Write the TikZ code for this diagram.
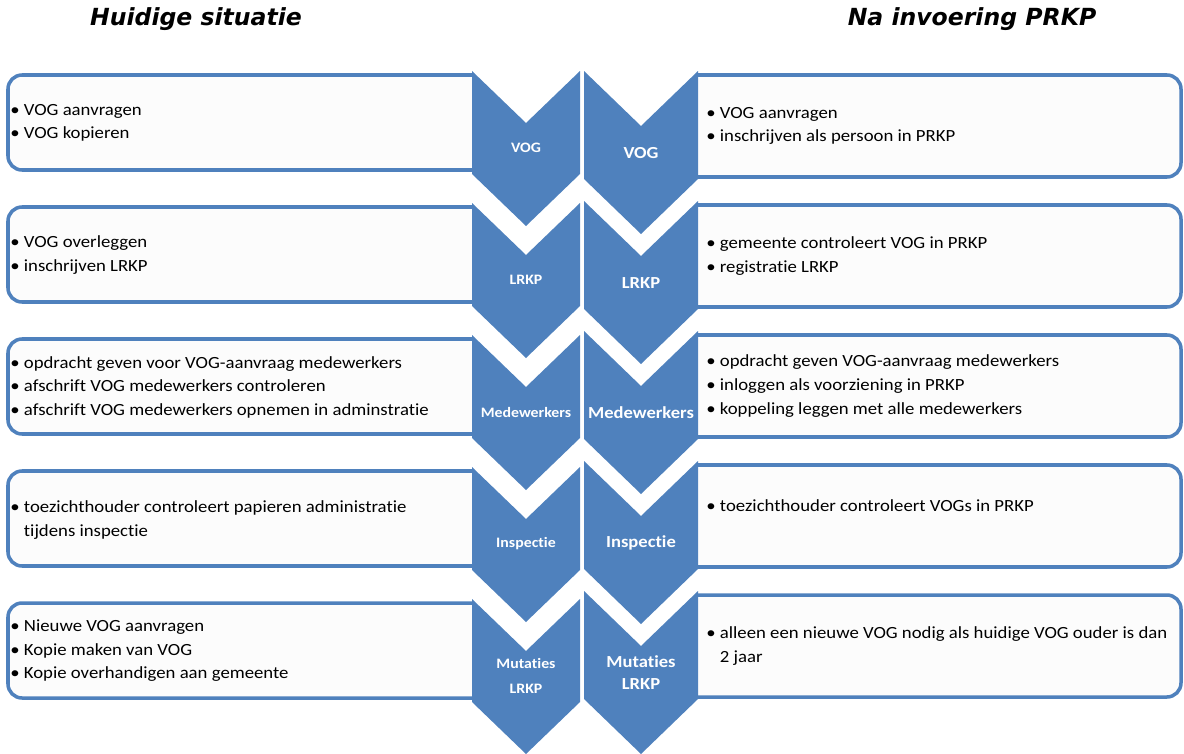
\documentclass[tikz,border=0pt]{standalone}
\usepackage{fontspec}
\setmainfont{Carlito}[FakeStretch=1.1, Ligatures=NoCommon]
\newfontfamily\headfont{DejaVu Sans}
\usepackage{tikz}
\definecolor{officeblue}{HTML}{4F81BD}
\definecolor{boxfill}{HTML}{FCFCFC}
\tikzset{
  stepbox/.style={draw=officeblue, line width=2pt, fill=boxfill, rounded corners=8pt},
  arrowblock/.style={fill=officeblue},
  itemtext/.style={anchor=west, align=left, inner sep=0pt, font=\fontsize{9.7}{13.4}\selectfont},
  lefttag/.style={text=white, align=center, inner sep=0pt, font=\bfseries\fontsize{8.2}{14.2}\selectfont},
  righttag/.style={text=white, align=center, inner sep=0pt, font=\bfseries\fontsize{9.6}{12.5}\selectfont},
  header/.style={inner sep=0pt, font=\headfont\bfseries\itshape\fontsize{13.4}{16}\selectfont}
}

\begin{document}
\begin{tikzpicture}[x=0.02cm,y=-0.02cm]
    \useasboundingbox (0,0) rectangle (1184,754);
    % headers
    \node[header] (hl) at (196,19) {Huidige situatie};
    \node[header] (hr) at (972,19) {Na invoering PRKP};
    % boxes left
    \begin{scope}
      \clip (0,0) rectangle (474,754);
      \foreach \i in {0,...,4}
        \draw[stepbox] (8,{75+132*\i}) rectangle (520,{170+132*\i});
    \end{scope}
    % boxes right
    \begin{scope}
      \clip (696,0) rectangle (1184,754);
      \foreach \i in {0,...,4}
        \draw[stepbox] (650,{75+130*\i}) rectangle (1181,{177+130*\i});
    \end{scope}
    % texts left
    \node[itemtext] (l1) at (10,123) {\textbullet~VOG aanvragen\\\textbullet~VOG kopieren};
    \node[itemtext] (l2) at (10,255) {\textbullet~VOG overleggen\\\textbullet~inschrijven LRKP};
    \node[itemtext] (l3) at (10,387) {\textbullet~opdracht geven voor VOG-aanvraag medewerkers\\\textbullet~afschrift VOG medewerkers controleren\\\textbullet~afschrift VOG medewerkers opnemen in adminstratie};
    \node[itemtext] (l4) at (10,520) {\textbullet~toezichthouder controleert papieren administratie\\\phantom{\textbullet~}tijdens inspectie};
    \node[itemtext] (l5) at (10,651) {\textbullet~Nieuwe VOG aanvragen\\\textbullet~Kopie maken van VOG\\\textbullet~Kopie overhandigen aan gemeente};
    % texts right
    \node[itemtext] (r1) at (706,126) {\textbullet~VOG aanvragen\\\textbullet~inschrijven als persoon in PRKP};
    \node[itemtext] (r2) at (706,256) {\textbullet~gemeente controleert VOG in PRKP\\\textbullet~registratie LRKP};
    \node[itemtext] (r3) at (706,386) {\textbullet~opdracht geven VOG-aanvraag medewerkers\\\textbullet~inloggen als voorziening in PRKP\\\textbullet~koppeling leggen met alle medewerkers};
    \node[itemtext] (r4) at (706,517) {\textbullet~toezichthouder controleert VOGs in PRKP\\\mbox{}};
    \node[itemtext] (r5) at (706,646) {\textbullet~alleen een nieuwe VOG nodig als huidige VOG ouder is dan\\\phantom{\textbullet~}2 jaar};
    % chevrons left
    \foreach \t/\lbl [count=\i] in {71/VOG, 203/LRKP, 335/Medewerkers, 467/Inspectie, 599/{Mutaties\\LRKP}} {
      \fill[arrowblock] (472,\t) -- (526,{\t+52}) -- (580,\t) -- (580,{\t+103})
        -- (526,{\t+155}) -- (472,{\t+103}) -- cycle;
      \node[lefttag] (cl\i) at (526,{\t+77}) {\lbl};
    }
    % chevrons right
    \foreach \t/\lbl [count=\i] in {71/VOG, 201/LRKP, 331/Medewerkers, 461/Inspectie, 591/{Mutaties\\LRKP}} {
      \fill[arrowblock] (584,\t) -- (641,{\t+55}) -- (698,\t) -- (698,{\t+108})
        -- (641,{\t+163}) -- (584,{\t+108}) -- cycle;
      \node[righttag] (cr\i) at (641,{\t+82}) {\lbl};
    }
\end{tikzpicture}
\end{document}
